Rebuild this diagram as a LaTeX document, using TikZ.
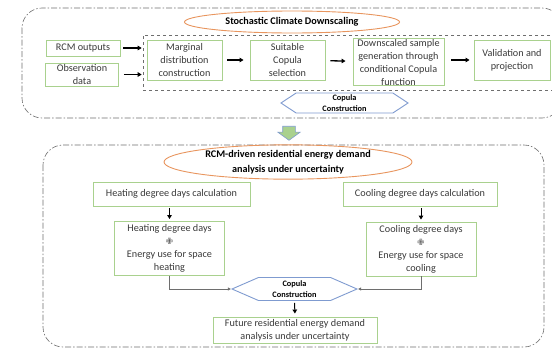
\documentclass[tikz,border=0pt]{standalone}
\usepackage{fontspec}
\setmainfont{Carlito}
\newfontfamily\dejavu{DejaVu Sans}
\usepackage{xcolor}
\usepackage{tikz}
\usetikzlibrary{positioning,shapes.geometric,shapes.symbols,shapes.arrows,arrows.meta}
\definecolor{boxGreen}{HTML}{A9D18E}
\definecolor{ovalOrange}{HTML}{E8955E}
\definecolor{hexBlue}{HTML}{7F9BD0}
\definecolor{frameGray}{HTML}{6E6E6E}
\definecolor{txtGray}{HTML}{3A3A3A}
\definecolor{plusGray}{HTML}{4A4A4A}

\begin{document}
\begin{tikzpicture}[x=1pt,y=-1pt,
  gbox/.style={draw=boxGreen,line width=0.9pt,fill=white,inner sep=0.5pt,align=center,
    text=txtGray,font=\fontsize{10.2}{13}\selectfont},
  oval/.style={ellipse,draw=ovalOrange,line width=0.9pt,inner sep=0pt,align=center,
    font=\fontsize{10.2}{15.5}\selectfont\bfseries},
  hexa/.style={signal,signal to=west and east,draw=hexBlue,line width=0.9pt,fill=white,
    inner sep=0pt,align=center,font=\fontsize{8.3}{10.5}\selectfont\bfseries},
  frame/.style={draw=frameGray,line width=0.6pt,rounded corners=20pt,
    dash pattern=on 6pt off 2pt on 1.5pt off 2pt},
  blk/.style={-{Triangle[length=4pt,width=4.5pt]},line width=1.3pt,black},
  gline/.style={-{Triangle[length=3pt,width=3pt]},line width=0.8pt,frameGray}]
  \useasboundingbox (0,0) rectangle (552,351);
  \clip (0,0) rectangle (552,351);
  % upper part
  \draw[frame] (22,8) rectangle (562,118);
  \node[draw=frameGray,line width=0.6pt,dashed,minimum width=425pt,minimum height=55pt,inner sep=0pt] (cop) at (355.5,62.5) {};
  \node[oval,minimum width=215pt,minimum height=22pt] (title1) at (292,22) {Stochastic Climate Downscaling};
  \node[gbox,minimum width=74pt,minimum height=16pt] (rcm) at (83,48) {RCM outputs};
  \node[gbox,minimum width=73pt,minimum height=23pt] (obs) at (82,74.5) {Observation\\data};
  \node[gbox,minimum width=75pt,minimum height=40pt] (marg) at (184.5,60) {Marginal\\distribution\\construction};
  \node[gbox,minimum width=75pt,minimum height=40pt] (suit) at (287.5,60) {Suitable\\Copula\\selection};
  \node[gbox,minimum width=91pt,minimum height=44pt] (down) at (398.5,62) {Downscaled sample\\generation through\\conditional Copula\\function};
  \node[gbox,minimum width=76pt,minimum height=40pt] (valid) at (512,60) {Validation and\\projection};
  \node[hexa,signal pointer angle=67,minimum width=127pt,minimum height=20pt] (hex1) at (344.5,103) {Copula\\Construction};
  \draw[blk,shorten <=3pt,shorten >=1pt] (rcm.east) -- (rcm.east -| cop.west);
  \draw[blk,shorten <=5pt,shorten >=1pt] (obs.east) -- (obs.east -| cop.west);
  \draw[blk,shorten <=5pt,shorten >=6pt] (marg) -- (suit);
  \draw[blk,shorten <=5pt,shorten >=7pt] (suit) -- (down);
  \draw[blk,shorten <=7pt,shorten >=4pt] (down.east |- valid) -- (valid);
  % link between the parts
  \node[single arrow,rotate=-90,draw=hexBlue,fill=boxGreen,line width=0.6pt,
    inner xsep=0pt,inner ysep=6pt,minimum height=14pt,single arrow head extend=5pt,
    single arrow tip angle=108,single arrow head indent=0pt] (link) at (289,131) {};
  % lower part
  \draw[frame] (43,145) rectangle (544,347);
  \node[oval,minimum width=248pt,minimum height=28pt] (title2) at (288,162) {RCM-driven residential energy demand\\analysis under uncertainty};
  \node[gbox,minimum width=157pt,minimum height=24pt] (heat) at (171.5,194) {Heating degree days calculation};
  \node[gbox,minimum width=154pt,minimum height=24pt] (cool) at (420,194) {Cooling degree days calculation};
  \node[gbox,minimum width=110pt,minimum height=54pt] (hdd) at (169.5,248.5) {Heating degree days\\{\dejavu\fontsize{8.5}{9}\selectfont\color{plusGray}✙}\\Energy use for space\\heating};
  \node[gbox,minimum width=110pt,minimum height=54pt] (cdd) at (421,249) {Cooling degree days\\{\dejavu\fontsize{8.5}{9}\selectfont\color{plusGray}✙}\\Energy use for space\\cooling};
  \node[hexa,signal pointer angle=47,minimum width=125pt,minimum height=23pt] (hex2) at (294.5,289) {Copula\\Construction};
  \node[gbox,minimum width=164pt,minimum height=26pt] (future) at (295,330) {Future residential energy demand\\analysis under uncertainty};
  \draw[blk,line width=1pt,shorten <=2pt,shorten >=2pt] (heat.south -| hdd) -- (hdd.north);
  \draw[blk,line width=1pt,shorten <=2pt,shorten >=2pt] (cool.south -| cdd) -- (cdd.north);
  \draw[gline] (hdd.south) |- (hex2.west);
  \draw[gline] (cdd.south) |- (hex2.east);
  \draw[blk,line width=1pt,shorten <=2pt,shorten >=3pt] (hex2.south) -- (future.north);
\end{tikzpicture}
\end{document}
